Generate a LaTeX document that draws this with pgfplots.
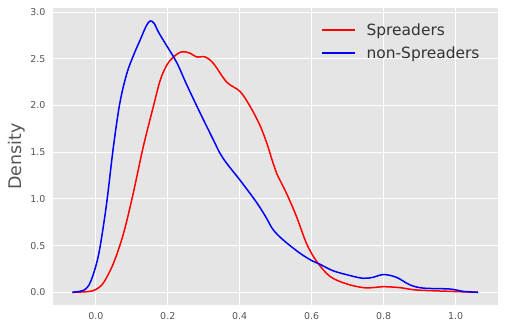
\documentclass[border=0pt]{standalone}
\usepackage{fontspec}
\setmainfont{DejaVu Sans}
\usepackage{pgfplots}
\pgfplotsset{compat=1.18}
\definecolor{bg}{HTML}{E5E5E5}
\definecolor{tk}{HTML}{555555}
\begin{document}
\begin{tikzpicture}
\begin{axis}[
  scale only axis, width=445bp, height=297bp,
  xmin=-0.119, xmax=1.118, ymin=-0.136, ymax=3.044,
  axis background/.style={fill=bg},
  axis line style={draw=none},
  tick style={draw=none},
  grid=major, major grid style={white, line width=1bp},
  xtick={0,0.2,0.4,0.6,0.8,1.0},
  ytick={0,0.5,1.0,1.5,2.0,2.5,3.0},
  /pgf/number format/assume math mode=true,
  /pgf/number format/fixed, /pgf/number format/fixed zerofill, /pgf/number format/precision=1,
  ticklabel style={font=\fontsize{9.5}{10}\selectfont, text=tk},
  xticklabel style={yshift=-4bp},
  yticklabel style={xshift=-4bp},
  ylabel={Density},
  ylabel style={font=\fontsize{17.5}{20}\selectfont, text=tk, at={(-36bp,148.5bp)}, anchor=center, rotate=0},
  legend style={draw=none, fill=none, at={(0.596,0.96)}, anchor=north west,
    font=\fontsize{15.5}{18}\selectfont, text=black!80, row sep=7bp,
    nodes={inner sep=1.5bp},
    /tikz/every odd column/.append style={column sep=9bp}},
  legend cell align=left,
  legend image code/.code={\draw[#1, line width=1.7bp] (0bp,0.3bp) -- (33bp,0.3bp);},
]
\addplot[red, line width=1.5bp, smooth, tension=0.55] coordinates {
(-0.065,0) (-0.03,0.005) (-0.016,0.01) (0.0,0.03) (0.021,0.10) (0.049,0.31) (0.077,0.63) (0.104,1.06) (0.132,1.56) (0.16,1.99) (0.179,2.27) (0.197,2.43) (0.216,2.52) (0.239,2.575) (0.262,2.56) (0.28,2.52) (0.304,2.52) (0.327,2.45) (0.364,2.25) (0.401,2.15) (0.429,1.99) (0.456,1.79) (0.475,1.60) (0.493,1.38) (0.503,1.27) (0.53,1.06) (0.558,0.81) (0.586,0.52) (0.614,0.33) (0.651,0.17) (0.697,0.09) (0.743,0.05) (0.77,0.05) (0.8,0.06) (0.845,0.05) (0.891,0.025) (0.984,0.01) (1.063,0)
};
\addlegendentry{Spreaders}
\addplot[blue, line width=1.5bp, smooth, tension=0.55] coordinates {
(-0.065,0) (-0.045,0.01) (-0.03,0.03) (-0.016,0.1) (0.0,0.28) (0.012,0.49) (0.03,0.95) (0.049,1.56) (0.067,2.03) (0.086,2.34) (0.104,2.53) (0.123,2.70) (0.14,2.85) (0.151,2.905) (0.162,2.88) (0.175,2.78) (0.197,2.64) (0.225,2.46) (0.253,2.22) (0.29,1.92) (0.327,1.63) (0.345,1.49) (0.364,1.38) (0.401,1.20) (0.438,1.01) (0.456,0.91) (0.475,0.79) (0.493,0.67) (0.521,0.56) (0.567,0.42) (0.6,0.34) (0.623,0.30) (0.66,0.23) (0.706,0.18) (0.743,0.15) (0.77,0.16) (0.8,0.19) (0.836,0.16) (0.873,0.08) (0.91,0.045) (0.984,0.035) (1.02,0.01) (1.063,0)
};
\addlegendentry{non-Spreaders}
\end{axis}
\pgfresetboundingbox
\path (-53bp,-25bp) rectangle (452bp,305bp);
\end{tikzpicture}
\end{document}
